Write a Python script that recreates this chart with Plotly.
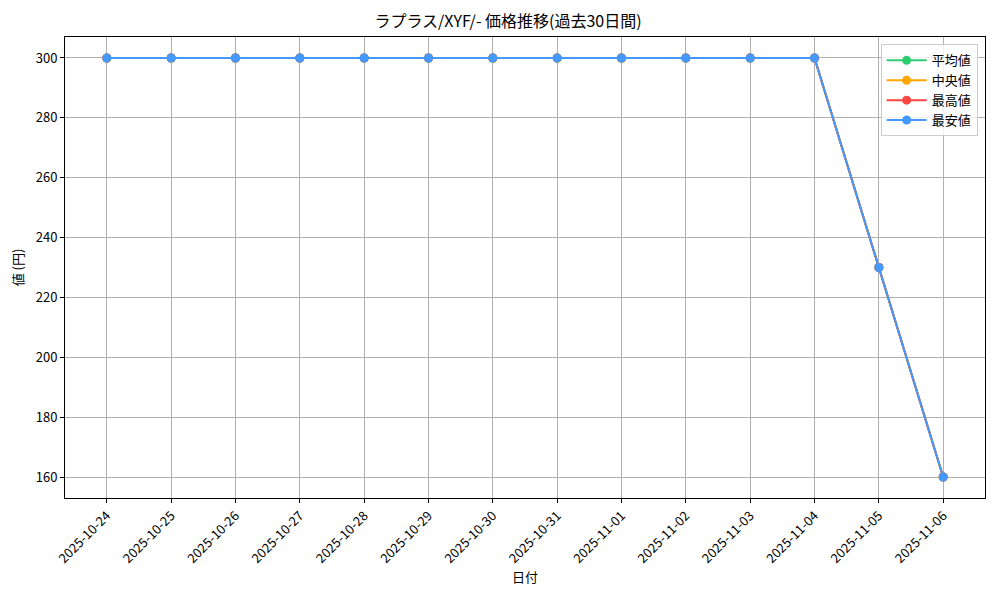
import plotly.graph_objects as go

dates = ["2025-10-24", "2025-10-25", "2025-10-26", "2025-10-27", "2025-10-28",
         "2025-10-29", "2025-10-30", "2025-10-31", "2025-11-01", "2025-11-02",
         "2025-11-03", "2025-11-04", "2025-11-05", "2025-11-06"]
avg_vals = [300, 300, 300, 300, 300, 300, 300, 300, 300, 300, 300, 300, 230, 160]
median_vals = [300, 300, 300, 300, 300, 300, 300, 300, 300, 300, 300, 300, 230, 160]
max_vals = [300, 300, 300, 300, 300, 300, 300, 300, 300, 300, 300, 300, 230, 160]
min_vals = [300, 300, 300, 300, 300, 300, 300, 300, 300, 300, 300, 300, 230, 160]
series_names = ["平均値", "中央値", "最高値", "最安値"]
colors = ["#2ecc71", "#ffa500", "#ff4444", "#4499ff"]
y_ticks = [160, 180, 200, 220, 240, 260, 280, 300]

FONT = "Noto Sans CJK JP"

fig = go.Figure()
for name, vals, c in zip(series_names, [avg_vals, median_vals, max_vals, min_vals], colors):
    fig.add_trace(go.Scatter(
        x=dates, y=vals, name=name, mode="lines+markers",
        line=dict(color=c, width=2), marker=dict(color=c, size=9),
    ))

axis_common = dict(
    showline=True, linecolor="black", linewidth=1, mirror=True,
    showgrid=True, gridcolor="#b0b0b0", gridwidth=1,
    ticks="outside", ticklen=4, tickcolor="black",
    tickfont=dict(size=13, color="black", family=FONT),
    zeroline=False,
)

fig.update_layout(
    width=1000, height=600,
    margin=dict(l=57, r=23, t=29, b=110, autoexpand=False),
    paper_bgcolor="white", plot_bgcolor="white",
    font=dict(family=FONT, color="black", size=13),
    title=dict(text="ラプラス/XYF/- 価格推移(過去30日間)", x=0.5, xanchor="center",
               y=0.977, yanchor="middle", font=dict(size=16, family=FONT, color="black")),
    xaxis=dict(type="category", range=[-0.65, 13.65], tickangle=-45,
               title=dict(text="日付", font=dict(size=13, family=FONT), standoff=4),
               **axis_common),
    yaxis=dict(range=[153, 307], tickvals=y_ticks,
               title=dict(text="値 (円)", font=dict(size=13, family=FONT), standoff=12),
               **axis_common),
    legend=dict(x=0.992, xanchor="right", y=0.984, yanchor="top",
                bgcolor="rgba(255,255,255,0.8)", bordercolor="#cccccc", borderwidth=1,
                font=dict(size=13, family=FONT), tracegroupgap=0, itemwidth=40),
    showlegend=True,
)

fig.write_html("out.html")
